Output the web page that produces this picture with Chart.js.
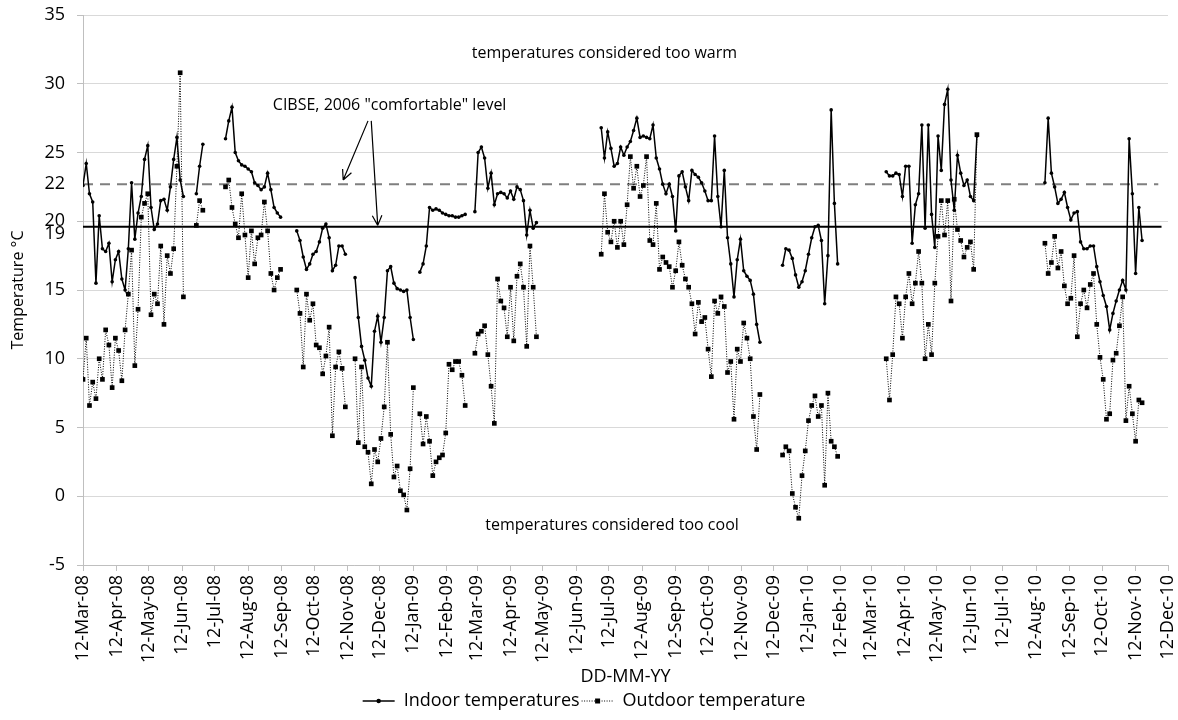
<!DOCTYPE html>
<html>
<head>
<meta charset="utf-8">
<script src="https://cdn.jsdelivr.net/npm/chart.js@4.4.1/dist/chart.umd.min.js"></script>
<style>
  html, body { margin: 0; padding: 0; background: #fff; }
</style>
</head>
<body>
<canvas id="chart" width="1178" height="720"></canvas>
<script>
// one reading every 3 days, day 0 = 12-Mar-08; null = logger off
const stepDays = 3;

const indoorTemps = [
  22.6, 24.2, 22.0, 21.4, 15.5, 20.4, 18.0, 17.8, 18.4, 15.6,   // 0
  17.2, 17.8, 15.8, 15.0, 18.0, 22.8, 18.7, 20.6, 21.8, 24.5,   // 10
  25.5, 21.0, 19.4, 19.8, 21.5, 21.6, 20.8, 22.5, 24.5, 26.1,   // 20
  23.0, 21.8, null, null, null, 22.0, 24.0, 25.6, null, null,   // 30
  null, null, null, null, 26.0, 27.3, 28.3, 25.0, 24.4, 24.1,   // 40
  24.0, 23.8, 23.6, 22.8, 22.6, 22.3, 22.5, 23.5, 22.3, 21.0,   // 50
  20.6, 20.3, null, null, null, null, 19.3, 18.6, 17.4, 16.5,   // 60
  16.9, 17.6, 17.8, 18.5, 19.5, 19.8, 18.8, 16.4, 16.8, 18.2,   // 70
  18.2, 17.6, null, null, 15.9, 13.0, 10.9, 9.9, 8.6, 8.0,      // 80
  12.0, 13.1, 11.2, 13.0, 16.4, 16.7, 15.5, 15.1, 15.0, 14.9,   // 90
  15.0, 13.0, 11.4, null, 16.3, 16.9, 18.2, 21.0, 20.8, 20.9,   // 100
  20.8, 20.6, 20.5, 20.4, 20.4, 20.3, 20.3, 20.4, 20.5, null,   // 110
  null, 20.7, 25.0, 25.4, 24.6, 22.4, 23.5, 21.2, 22.0, 22.1,   // 120
  22.0, 21.7, 22.2, 21.6, 22.5, 22.3, 21.5, 19.0, 20.8, 19.5,   // 130
  19.9, null, null, null, null, null, null, null, null, null,   // 140
  null, null, null, null, null, null, null, null, null, null,   // 150
  26.8, 24.6, 26.5, 25.3, 24.0, 24.2, 25.4, 24.8, 25.4, 25.8,   // 160
  26.6, 27.5, 26.1, 26.2, 26.1, 26.0, 27.0, 24.6, 23.8, 22.7,   // 170
  22.0, 22.7, 21.8, 19.3, 23.3, 23.6, 22.5, 21.5, 23.7, 23.4,   // 180
  23.2, 22.8, 22.2, 21.5, 21.5, 26.2, 21.8, 19.6, 23.7, 18.8,   // 190
  16.9, 14.5, 17.2, 18.7, 16.4, 16.0, 15.7, 14.7, 12.5, 11.2,   // 200
  null, null, null, null, null, null, 16.8, 18.0, 17.9, 17.3,   // 210
  16.1, 15.2, 15.6, 16.4, 17.6, 18.8, 19.6, 19.7, 18.6, 14.0,   // 220
  17.5, 28.1, 21.3, 16.9, null, null, null, null, null, null,   // 230
  null, null, null, null, null, null, null, null, 23.6, 23.3,   // 240
  23.3, 23.5, 23.4, 21.8, 24.0, 24.0, 18.4, 21.2, 22.0, 27.0,   // 250
  19.5, 27.0, 20.5, 18.1, 26.2, 23.7, 28.5, 29.6, 23.0, 20.8,   // 260
  24.8, 23.5, 22.6, 23.0, 21.8, 21.5, 26.2, null, null, null,   // 270
  null, null, null, null, null, null, null, null, null, null,   // 280
  null, null, null, null, null, null, null, 22.8, 27.5, 23.5,   // 290
  22.5, 21.3, 21.6, 22.1, 21.0, 20.1, 20.6, 20.7, 18.5, 18.0,   // 300
  18.0, 18.2, 18.2, 16.7, 15.6, 14.6, 13.8, 12.1, 13.3, 14.2,   // 310
  15.0, 15.7, 15.0, 26.0, 22.0, 16.2, 21.0, 18.6                // 320
];

const outdoorTemps = [
  8.5, 11.5, 6.6, 8.3, 7.1, 10.0, 8.5, 12.1, 11.0, 7.9,         // 0
  11.5, 10.6, 8.4, 12.1, 14.7, 17.9, 9.5, 13.6, 20.3, 21.3,     // 10
  22.0, 13.2, 14.7, 14.0, 18.2, 12.5, 17.5, 16.2, 18.0, 24.0,   // 20
  30.8, 14.5, null, null, null, 19.7, 21.5, 20.8, null, null,   // 30
  null, null, null, null, 22.5, 23.0, 21.0, 19.8, 18.8, 22.0,   // 40
  19.0, 15.9, 19.3, 16.9, 18.8, 19.0, 21.4, 19.3, 16.2, 15.0,   // 50
  15.9, 16.5, null, null, null, null, 15.0, 13.3, 9.4, 14.7,    // 60
  12.8, 14.0, 11.0, 10.8, 8.9, 10.2, 12.3, 4.4, 9.4, 10.5,      // 70
  9.3, 6.5, null, null, 10.0, 3.9, 9.4, 3.6, 3.2, 0.9,          // 80
  3.4, 2.5, 4.2, 6.5, 11.2, 4.5, 1.4, 2.2, 0.4, 0.1,            // 90
  -1.0, 2.0, 7.9, null, 6.0, 3.8, 5.8, 4.0, 1.5, 2.5,           // 100
  2.8, 3.0, 4.6, 9.6, 9.2, 9.8, 9.8, 8.8, 6.6, null,            // 110
  null, 10.4, 11.8, 12.0, 12.4, 10.3, 8.0, 5.3, 15.8, 14.2,     // 120
  13.7, 11.6, 15.2, 11.3, 16.0, 16.9, 15.2, 10.9, 18.2, 15.2,   // 130
  11.6, null, null, null, null, null, null, null, null, null,   // 140
  null, null, null, null, null, null, null, null, null, null,   // 150
  17.6, 22.0, 19.2, 18.5, 20.0, 18.1, 20.0, 18.3, 21.2, 24.7,   // 160
  22.4, 24.0, 21.8, 22.6, 24.7, 18.6, 18.3, 21.3, 16.5, 17.4,   // 170
  17.0, 16.7, 15.2, 16.4, 18.5, 16.8, 15.8, 15.2, 14.0, 11.8,   // 180
  14.1, 12.7, 13.0, 10.7, 8.7, 14.2, 13.3, 14.5, 13.8, 9.0,     // 190
  9.8, 5.6, 10.7, 9.8, 12.6, 11.5, 10.0, 5.8, 3.4, 7.4,         // 200
  null, null, null, null, null, null, 3.0, 3.6, 3.3, 0.2,       // 210
  -0.8, -1.6, 1.5, 3.3, 5.5, 6.6, 7.3, 5.8, 6.6, 0.8,           // 220
  7.5, 4.0, 3.6, 2.9, null, null, null, null, null, null,       // 230
  null, null, null, null, null, null, null, null, 10.0, 7.0,    // 240
  10.3, 14.5, 14.0, 11.5, 14.5, 16.2, 14.0, 15.5, 17.8, 15.5,   // 250
  10.0, 12.5, 10.3, 15.5, 18.9, 21.5, 19.0, 21.5, 14.2, 21.6,   // 260
  19.4, 18.6, 17.4, 18.1, 18.5, 16.5, 26.3, null, null, null,   // 270
  null, null, null, null, null, null, null, null, null, null,   // 280
  null, null, null, null, null, null, null, 18.4, 16.2, 17.0,   // 290
  18.9, 16.6, 17.8, 15.3, 14.0, 14.4, 17.5, 11.6, 14.0, 15.0,   // 300
  13.7, 15.4, 16.2, 12.5, 10.1, 8.5, 5.6, 6.0, 9.9, 10.4,       // 310
  12.4, 14.5, 5.5, 8.0, 6.0, 4.0, 7.0, 6.8                      // 320
];

// CIBSE 2006 levels as drawn
const warmLevel = 22.7;
const comfortLevel = 19.6;
const levelEndDays = [996, 999];

const monthDays = [0, 31, 61, 92, 122, 153, 184, 214, 245, 275, 306, 337,
  365, 396, 426, 457, 487, 518, 549, 579, 610, 640, 671, 702,
  730, 761, 791, 822, 852, 883, 914, 944, 975, 1005];
const monthLabels = ['12-Mar-08', '12-Apr-08', '12-May-08', '12-Jun-08', '12-Jul-08', '12-Aug-08',
  '12-Sep-08', '12-Oct-08', '12-Nov-08', '12-Dec-08', '12-Jan-09', '12-Feb-09', '12-Mar-09',
  '12-Apr-09', '12-May-09', '12-Jun-09', '12-Jul-09', '12-Aug-09', '12-Sep-09', '12-Oct-09',
  '12-Nov-09', '12-Dec-09', '12-Jan-10', '12-Feb-10', '12-Mar-10', '12-Apr-10', '12-May-10',
  '12-Jun-10', '12-Jul-10', '12-Aug-10', '12-Sep-10', '12-Oct-10', '12-Nov-10', '12-Dec-10'];

const yTickValues = [-5, 0, 5, 10, 15, 19.05, 20, 22.7, 25, 30, 35];
const yTickLabels = ['-5', '0', '5', '10', '15', '19', '20', '22', '25', '30', '35'];

const notes = [
  { text: 'temperatures considered too warm', day: 483, temp: 32.2 },
  { text: 'temperatures considered too cool', day: 490, temp: -2.1 },
  { text: 'CIBSE, 2006 "comfortable" level', day: 284, temp: 28.4 }
];
const arrows = [
  { from: [264, 27.3], to: [241, 23.0] },
  { from: [267, 27.3], to: [273, 19.7] }
];

const FONT = "'Open Sans', sans-serif";
Chart.defaults.font.family = FONT;
Chart.defaults.color = '#000';

const toPoints = arr => arr.map((t, i) => ({ x: i * stepDays, y: t }));
const isMajor = v => Number.isInteger(v) && v % 5 === 0;

const notesPlugin = {
  id: 'notes',
  afterDatasetsDraw(chart) {
    const { ctx, scales: { x, y } } = chart;
    ctx.save();
    ctx.fillStyle = '#000';
    ctx.font = '16px ' + FONT;
    ctx.textAlign = 'center';
    ctx.textBaseline = 'middle';
    notes.forEach(n => ctx.fillText(n.text, x.getPixelForValue(n.day), y.getPixelForValue(n.temp)));

    ctx.strokeStyle = '#000';
    ctx.lineWidth = 1.2;
    arrows.forEach(a => {
      const x0 = x.getPixelForValue(a.from[0]), y0 = y.getPixelForValue(a.from[1]);
      const x1 = x.getPixelForValue(a.to[0]), y1 = y.getPixelForValue(a.to[1]);
      const ang = Math.atan2(y1 - y0, x1 - x0);
      ctx.beginPath();
      ctx.moveTo(x0, y0);
      ctx.lineTo(x1, y1);
      [-1, 1].forEach(s => {
        ctx.moveTo(x1, y1);
        ctx.lineTo(x1 - 11 * Math.cos(ang + s * 0.45), y1 - 11 * Math.sin(ang + s * 0.45));
      });
      ctx.stroke();
    });
    ctx.restore();
  },
  afterDraw(chart) {
    // markers in the middle of the legend line samples
    const boxes = chart.legend.legendHitBoxes;
    const { ctx } = chart;
    ctx.save();
    ctx.fillStyle = '#000';
    boxes.forEach((b, i) => {
      const cx = b.left + 16, cy = b.top + b.height / 2;
      ctx.beginPath();
      if (i === 0) ctx.arc(cx, cy, 2.2, 0, Math.PI * 2);
      else ctx.rect(cx - 2.5, cy - 2.5, 5, 5);
      ctx.fill();
    });
    ctx.restore();
  }
};

new Chart(document.getElementById('chart'), {
  type: 'line',
  data: {
    datasets: [
      {
        label: 'Indoor temperatures',
        data: toPoints(indoorTemps),
        borderColor: '#000',
        backgroundColor: '#000',
        borderWidth: 1.5,
        pointStyle: 'circle',
        pointRadius: 1.8,
        pointBorderWidth: 0
      },
      {
        label: 'Outdoor temperature',
        data: toPoints(outdoorTemps),
        borderColor: '#000',
        backgroundColor: '#000',
        borderWidth: 1,
        borderDash: [1, 1.5],
        pointStyle: 'rect',
        pointRadius: 3.3,
        pointBorderWidth: 0
      },
      {
        label: 'warm',
        data: [{ x: 0, y: warmLevel }, { x: levelEndDays[0], y: warmLevel }],
        borderColor: '#7f7f7f',
        borderWidth: 2,
        borderDash: [10, 7],
        pointRadius: 0
      },
      {
        label: 'comfort',
        data: [{ x: 0, y: comfortLevel }, { x: levelEndDays[1], y: comfortLevel }],
        borderColor: '#000',
        borderWidth: 2,
        pointRadius: 0
      }
    ]
  },
  options: {
    responsive: false,
    animation: false,
    layout: { padding: { top: 15, right: 10, left: 0, bottom: 0 } },
    plugins: {
      legend: {
        position: 'bottom',
        labels: {
          usePointStyle: true,
          pointStyleWidth: 32,
          font: { size: 18 },
          color: '#000',
          padding: 2,
          generateLabels: chart => chart.data.datasets.slice(0, 2).map((ds, i) => ({
            text: ds.label,
            datasetIndex: i,
            hidden: false,
            fillStyle: '#000',
            strokeStyle: '#000',
            fontColor: '#000',
            lineWidth: ds.borderWidth,
            lineDash: ds.borderDash || [],
            pointStyle: 'line'
          }))
        }
      },
      tooltip: { enabled: false }
    },
    scales: {
      x: {
        type: 'linear',
        min: 0,
        max: 1005,
        afterBuildTicks: s => { s.ticks = monthDays.map(v => ({ value: v })); },
        afterFit: s => {
          s.height = 720 - 565 - s.chart.legend.height;
          s.paddingLeft = 0;
          s.paddingRight = 0;
          s.paddingTop = 0;
          s.paddingBottom = 0;
        },
        ticks: {
          autoSkip: false,
          minRotation: 90,
          maxRotation: 90,
          padding: 4,
          font: { size: 18 },
          callback: (v, i) => monthLabels[i]
        },
        grid: { drawOnChartArea: false, tickLength: 6, tickColor: '#bfbfbf' },
        border: { color: '#bfbfbf' },
        title: { display: true, text: 'DD-MM-YY', font: { size: 18 }, padding: { top: 0, bottom: 2 } }
      },
      y: {
        min: -5,
        max: 35,
        afterBuildTicks: s => { s.ticks = yTickValues.map(v => ({ value: v })); },
        afterFit: s => {
          s.width = 83;
          s.paddingTop = 0;
          s.paddingBottom = 0;
        },
        ticks: {
          autoSkip: false,
          padding: 12,
          font: { size: 18 },
          callback: (v, i) => yTickLabels[i]
        },
        grid: {
          color: c => (c.tick && isMajor(c.tick.value)) ? '#d9d9d9' : 'rgba(0,0,0,0)',
          tickColor: c => (c.tick && isMajor(c.tick.value)) ? '#bfbfbf' : 'rgba(0,0,0,0)',
          tickLength: 6
        },
        border: { color: '#bfbfbf' },
        title: { display: true, text: 'Temperature °C', font: { size: 16 }, padding: { top: 9, bottom: 0 } }
      }
    }
  },
  plugins: [notesPlugin]
});
</script>
</body>
</html>
